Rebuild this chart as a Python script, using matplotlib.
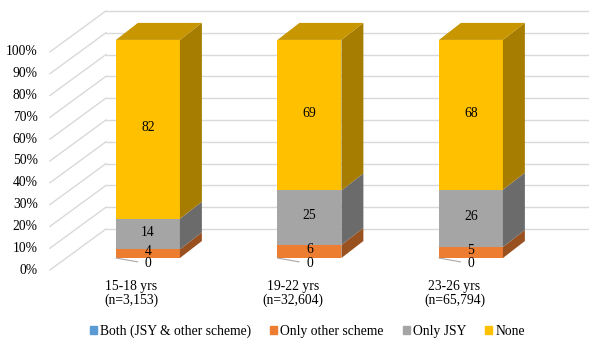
import numpy as np
import matplotlib
matplotlib.use("Agg")
import matplotlib.pyplot as plt
from matplotlib.patches import Polygon, Patch
from matplotlib.colors import to_rgb

plt.rcParams['font.family'] = ['Liberation Serif', 'DejaVu Serif']

# data
categories = ['15-18 yrs\n(n=3,153)', '19-22 yrs\n(n=32,604)', '23-26 yrs\n(n=65,794)']
series = ['Both (JSY & other scheme)', 'Only other scheme', 'Only JSY', 'None']
both = [0, 0, 0]
only_other = [4, 6, 5]
only_jsy = [14, 25, 26]
none = [82, 69, 68]
ticks = [0, 10, 20, 30, 40, 50, 60, 70, 80, 90, 100]
colors = ['#5B9BD5', '#ED7D31', '#A5A5A5', '#FFC000']

# 3d look (oblique projection in data units)
W = 0.396        # bar width
DX, DY = 0.136, 7.8   # bar depth offset
WALL_X0, WALL_X1 = -0.607, -0.26
WALL_Y0, WALL_Y1 = -5.5, 13.3
FS = 9.8


def shade(c, f):
    r, g, b = to_rgb(c)
    return (r * f, g * f, b * f)


fig = plt.figure(figsize=(5.89, 3.42), dpi=100)
ax = fig.add_axes([0, 0, 1, 1])
ax.set_xlim(-0.916, 2.731)
ax.set_ylim(-38.5, 118.3)
ax.axis('off')

# walls / gridlines
for t in ticks:
    ax.plot([WALL_X0, WALL_X1], [t + WALL_Y0, t + WALL_Y1], color='#D9D9D9', lw=1, zorder=0)
    ax.plot([WALL_X1, 2.731], [t + WALL_Y1, t + WALL_Y1], color='#D9D9D9', lw=1, zorder=0)
    ax.text(WALL_X0 - 0.075, t + WALL_Y0, f'{t}%', ha='right', va='center', fontsize=FS)

data = np.array([both, only_other, only_jsy, none], dtype=float)
pct = data / data.sum(axis=0) * 100
x = np.arange(len(categories))

bottoms = np.zeros(len(categories))
for k, name in enumerate(series):
    vals = pct[k]
    ax.bar(x, vals, W, bottom=bottoms, color=colors[k], zorder=2)
    for i in range(len(x)):
        if vals[i] <= 0:
            continue
        xr = x[i] + W / 2
        y0, y1 = bottoms[i], bottoms[i] + vals[i]
        side = [(xr, y0), (xr + DX, y0 + DY), (xr + DX, y1 + DY), (xr, y1)]
        ax.add_patch(Polygon(side, closed=True, color=shade(colors[k], 0.65), lw=0, zorder=2))
    bottoms = bottoms + vals

# top faces
for i in range(len(x)):
    xl, xr = x[i] - W / 2, x[i] + W / 2
    top = bottoms[i]
    face = [(xl, top), (xl + DX, top + DY), (xr + DX, top + DY), (xr, top)]
    ax.add_patch(Polygon(face, closed=True, color=shade(colors[3], 0.78), lw=0, zorder=2))

# value labels
for i in range(len(x)):
    base = 0
    for k in range(len(series)):
        v = data[k][i]
        h = pct[k][i]
        if h > 0:
            ax.text(x[i], base + h / 2 + 0.8, f'{int(v)}', ha='center', va='center',
                    fontsize=FS, zorder=4)
        else:
            ax.annotate(f'{int(v)}', xy=(x[i] - W / 2, 0), xytext=(x[i], -2.6),
                        ha='center', va='center', fontsize=FS, zorder=4,
                        arrowprops=dict(arrowstyle='-', color='#A6A6A6', lw=0.8,
                                        shrinkA=3, shrinkB=0))
        base += h

# category labels
for i, c in enumerate(categories):
    ax.text(x[i] - 0.102, -16.3, c, ha='center', va='center', fontsize=FS, linespacing=1.1)

handles = [Patch(color=c) for c in colors]
fig.legend(handles, series, loc='center', bbox_to_anchor=(0.522, 0.032), ncol=4,
           frameon=False, fontsize=FS, handlelength=0.5, handleheight=0.5,
           handletextpad=0.25, columnspacing=1.4)

fig.savefig('out.png', dpi=100)
